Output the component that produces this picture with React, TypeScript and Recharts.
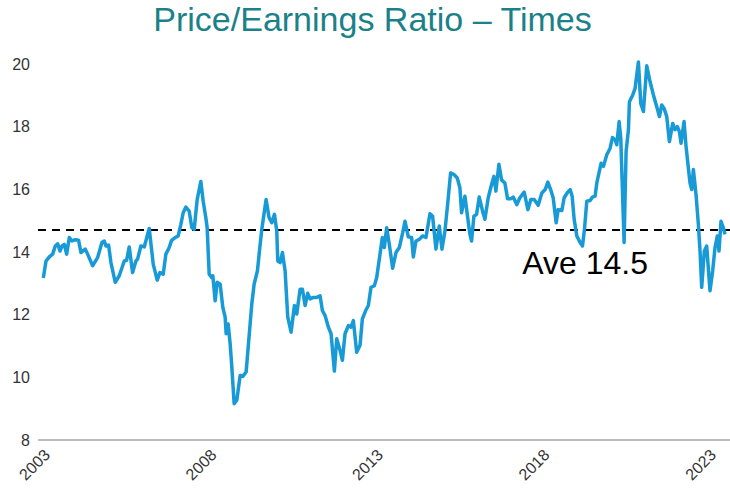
import React from 'react';
import { LineChart, Line, XAxis, YAxis, ReferenceLine } from 'recharts';

// Decimal year of each reading
const years: number[] = [
  2003.01, 2003.09, 2003.19, 2003.29, 2003.37, 2003.44, 2003.51, 2003.57, 2003.64, 2003.71, 2003.79, 2003.87, 2003.97,
  2004.07, 2004.14, 2004.27, 2004.34, 2004.49, 2004.64, 2004.77, 2004.84, 2004.89, 2004.97,
  2005.04, 2005.17, 2005.29, 2005.44, 2005.51, 2005.59, 2005.69, 2005.79, 2005.84, 2005.94,
  2006.04, 2006.19, 2006.31, 2006.43, 2006.51, 2006.61, 2006.69, 2006.79, 2006.86, 2006.96,
  2007.06, 2007.14, 2007.21, 2007.29, 2007.39, 2007.47, 2007.54, 2007.63, 2007.74, 2007.81, 2007.89, 2007.93, 2007.99,
  2008.07, 2008.10, 2008.17, 2008.23, 2008.32, 2008.40, 2008.47, 2008.50, 2008.56, 2008.62, 2008.67, 2008.74, 2008.82, 2008.92,
  2009.00, 2009.10, 2009.17, 2009.27, 2009.34, 2009.44, 2009.50, 2009.57, 2009.70, 2009.79, 2009.87, 2009.95,
  2010.02, 2010.05, 2010.12, 2010.19, 2010.27, 2010.35, 2010.45, 2010.55, 2010.62, 2010.72, 2010.79, 2010.87, 2010.95,
  2011.02, 2011.12, 2011.22, 2011.32, 2011.39, 2011.47, 2011.57, 2011.65, 2011.75, 2011.82, 2011.92, 2011.99,
  2012.07, 2012.17, 2012.25, 2012.32, 2012.42, 2012.52, 2012.59, 2012.69, 2012.77, 2012.85, 2012.95,
  2013.02, 2013.12, 2013.19, 2013.25, 2013.32, 2013.40, 2013.50, 2013.60, 2013.70, 2013.80, 2013.87, 2013.97,
  2014.07, 2014.12, 2014.20, 2014.30, 2014.40, 2014.50, 2014.62, 2014.70, 2014.80, 2014.90, 2014.98,
  2015.07, 2015.15, 2015.24, 2015.34, 2015.44, 2015.52, 2015.57, 2015.67, 2015.74, 2015.82, 2015.87, 2015.94,
  2016.02, 2016.10, 2016.20, 2016.27, 2016.37, 2016.47, 2016.54, 2016.60, 2016.69, 2016.77, 2016.87, 2016.95,
  2017.05, 2017.12, 2017.23, 2017.32, 2017.45, 2017.56, 2017.65, 2017.75, 2017.87, 2017.98,
  2018.08, 2018.16, 2018.26, 2018.32, 2018.41, 2018.47, 2018.58, 2018.65, 2018.76, 2018.83, 2018.89, 2018.95,
  2019.03, 2019.13, 2019.20, 2019.26, 2019.33, 2019.43, 2019.50, 2019.58, 2019.63, 2019.76, 2019.83, 2019.93,
  2020.03, 2020.10, 2020.18, 2020.23, 2020.30, 2020.35, 2020.45, 2020.51, 2020.58, 2020.61, 2020.71, 2020.78, 2020.88, 2020.95,
  2021.03, 2021.13, 2021.23, 2021.33, 2021.43, 2021.51, 2021.58, 2021.65, 2021.73, 2021.81, 2021.91, 2021.98,
  2022.05, 2022.11, 2022.16, 2022.25, 2022.31, 2022.38, 2022.43, 2022.48, 2022.53, 2022.61, 2022.68, 2022.73, 2022.78, 2022.86, 2022.93,
  2023.03, 2023.11, 2023.18, 2023.25, 2023.30, 2023.36, 2023.43, 2023.48,
];

// Price/earnings ratio (times)
const pe: number[] = [
  13.17, 13.71, 13.84, 13.93, 14.19, 14.26, 14.03, 14.19, 14.24, 13.93, 14.46, 14.35, 14.39,
  14.37, 13.98, 14.09, 13.93, 13.56, 13.82, 14.3, 14.35, 14.19, 14.22,
  13.66, 13.03, 13.24, 13.71, 13.73, 14.16, 13.34, 13.71, 13.77, 14.19,
  14.16, 14.75, 13.61, 13.1, 13.34, 13.29, 13.93, 14.14, 14.37, 14.45,
  14.51, 14.88, 15.25, 15.43, 15.3, 14.77, 14.72, 15.67, 16.25, 15.62, 15.09, 14.77, 13.29,
  13.18, 13.24, 12.44, 13.03, 12.97, 12.23, 11.92, 11.39, 11.7, 11.07, 10.33, 9.16, 9.27, 10.06,
  10.03, 10.17, 11.07, 12.34, 12.97, 13.4, 14.03, 14.72, 15.67, 15.09, 14.93, 15.2,
  14.67, 13.71, 13.66, 13.98, 13.4, 11.92, 11.44, 12.29, 12.02, 12.81, 12.81, 12.29, 12.68,
  12.5, 12.55, 12.55, 12.6, 12.13, 11.97, 11.6, 11.39, 10.2, 11.23, 10.86, 10.54,
  11.39, 11.65, 11.6, 11.81, 10.8, 11.02, 11.86, 12.13, 12.29, 12.87, 12.92,
  13.18, 13.93, 14.46, 14.14, 14.77, 14.24, 13.48, 13.98, 14.14, 14.61, 14.98, 14.48,
  14.46, 13.84, 14.35, 14.4, 14.51, 14.46, 15.22, 15.14, 14.09, 14.83, 14.09,
  14.67, 15.51, 16.52, 16.47, 16.36, 16.04, 15.25, 15.78, 15.2, 14.56, 14.35, 15.14,
  15.2, 15.75, 15.3, 15.04, 15.73, 16.15, 16.41, 15.94, 16.8, 16.3, 16.2, 15.7,
  15.7, 15.75, 15.51, 15.73, 15.91, 15.35, 15.67, 15.67, 15.49, 15.88,
  15.99, 16.23, 15.94, 15.73, 14.93, 15.35, 15.32, 15.73, 15.91, 15.99, 15.78, 15.04,
  14.51, 14.3, 14.19, 14.72, 15.62, 15.64, 15.75, 15.78, 16.2, 16.83, 16.73, 17.1,
  17.31, 17.65, 17.58, 17.42, 18.16, 17.63, 14.3, 17.21, 17.9, 18.79, 19.01, 19.22, 20.06, 18.74,
  18.48, 19.94, 19.43, 19.01, 18.63, 18.32, 18.69, 18.58, 18.32, 17.52, 18.1, 17.9,
  18.0, 17.84, 17.47, 18.16, 17.37, 16.68, 16.2, 15.99, 16.63, 15.83, 14.88, 14.03, 12.87, 14.03, 14.19,
  12.76, 13.4, 14.14, 14.51, 14.03, 14.98, 14.77, 14.56,
];

const xTicks: number[] = [2003, 2008, 2013, 2018, 2023];
const yTicks: number[] = [8, 10, 12, 14, 16, 18, 20];
const averageLevel = 14.7;
const averageText = 'Ave 14.5';
const title = 'Price/Earnings Ratio \u2013 Times';

const data = years.map((t, i) => ({ t, pe: pe[i] }));

const AveLabel = (props: any) => {
  const vb = props.viewBox || {};
  return (
    <text
      x={vb.x + vb.width - 82}
      y={vb.y + 44}
      textAnchor="end"
      fontSize={32}
      fill="#000"
      fontFamily="Liberation Sans, Arial, sans-serif"
    >
      {averageText}
    </text>
  );
};

export default function App() {
  return (
    <div
      style={{
        position: 'absolute',
        left: 0,
        top: 0,
        width: 730,
        height: 490,
        background: '#fff',
        fontFamily: 'Liberation Sans, Arial, sans-serif',
      }}
    >
      <div
        style={{
          position: 'absolute',
          left: 0,
          top: 0,
          width: 745,
          textAlign: 'center',
          fontSize: 34,
          color: '#1b8189',
          lineHeight: 'normal',
          whiteSpace: 'nowrap',
        }}
      >
        {title}
      </div>
      <LineChart
        width={730}
        height={490}
        data={data}
        margin={{ top: 62, right: 0, bottom: 0, left: 0 }}
      >
        <XAxis
          dataKey="t"
          type="number"
          domain={[2002.85, 2023.63]}
          ticks={xTicks}
          allowDataOverflow
          height={50}
          tickLine={false}
          axisLine={{ stroke: '#a6a6a6', strokeWidth: 1.5 }}
          tick={{ fill: '#333', fontSize: 16 }}
          angle={-45}
          textAnchor="end"
          interval={0}
        />
        <YAxis
          type="number"
          domain={[8, 20]}
          ticks={yTicks}
          width={38}
          axisLine={false}
          tickLine={false}
          tick={{ fill: '#333', fontSize: 16 }}
          interval={0}
        />
        <ReferenceLine
          y={averageLevel}
          stroke="#000"
          strokeWidth={2}
          strokeDasharray="8 6"
          label={<AveLabel />}
        />
        <Line
          type="linear"
          dataKey="pe"
          stroke="#189ad6"
          strokeWidth={3.5}
          dot={false}
          isAnimationActive={false}
          strokeLinejoin="round"
        />
      </LineChart>
    </div>
  );
}
